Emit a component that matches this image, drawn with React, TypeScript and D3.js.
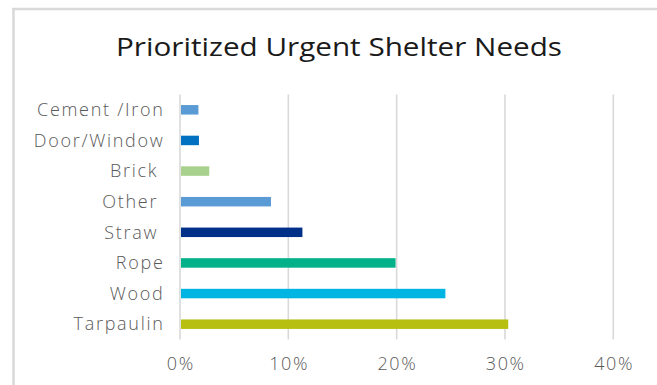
import React from "react";
import * as d3 from "d3";

const categories = ["Cement /Iron", "Door/Window", "Brick ", "Other ", "Straw ", "Rope", "Wood", "Tarpaulin"];
const values = [0.017, 0.0175, 0.027, 0.084, 0.113, 0.199, 0.245, 0.303];
const colors = ["#5B9BD5", "#0070C0", "#A9D18E", "#5B9BD5", "#003087", "#00B18A", "#00B5E2", "#B7BF10"];
const ticks = [0, 0.1, 0.2, 0.3, 0.4];
const title = "Prioritized Urgent Shelter Needs";

const W = 657;
const H = 385;
const FONT = "'Open Sans', 'DejaVu Sans', sans-serif";

export default function App() {
  const x = d3.scaleLinear().domain([0, 0.4]).range([180, 613.3]);
  const y = d3.scaleBand().domain(categories).range([94.5, 339.5]).paddingInner(0.69).paddingOuter(0.345);
  const fmt = d3.format(".0%");
  return (
    <svg width={W} height={H} style={{ position: "absolute", left: 0, top: 0, background: "#fff" }} xmlns="http://www.w3.org/2000/svg">
      <rect x={0} y={0} width={W} height={H} fill="#fff" />
      <line x1={13.5} x2={13.5} y1={8} y2={H} stroke="#D9D9D9" strokeWidth={2.5} />
      <line x1={12} x2={W} y1={9} y2={9} stroke="#D9D9D9" strokeWidth={2.5} />
      <text x={339} y={56} textAnchor="middle" fontFamily={FONT} fontSize={25.5} fill="#1A1A1A" textLength={446} lengthAdjust="spacingAndGlyphs">{title}</text>
      {ticks.map((t) => (
        <g key={t}>
          <line x1={x(t)} x2={x(t)} y1={94.5} y2={339.5} stroke="#D9D9D9" strokeWidth={1.6} />
          <text x={x(t) + 0.8} y={370} textAnchor="middle" fontFamily={FONT} fontSize={18} fontWeight={300} letterSpacing={1.6} fill="#595959">{fmt(t)}</text>
        </g>
      ))}
      {categories.map((c, i) => (
        <g key={c}>
          <rect x={x(0) + 1} y={y(c)!} width={x(values[i]) - x(0) - 1} height={y.bandwidth()} fill={colors[i]} />
          <text x={164.5} y={y(c)! + y.bandwidth() / 2} dy="0.35em" textAnchor="end" fontFamily={FONT} fontSize={18} fontWeight={300} letterSpacing={1.7} fill="#595959" style={{ whiteSpace: "pre" }}>{c}</text>
        </g>
      ))}
    </svg>
  );
}
